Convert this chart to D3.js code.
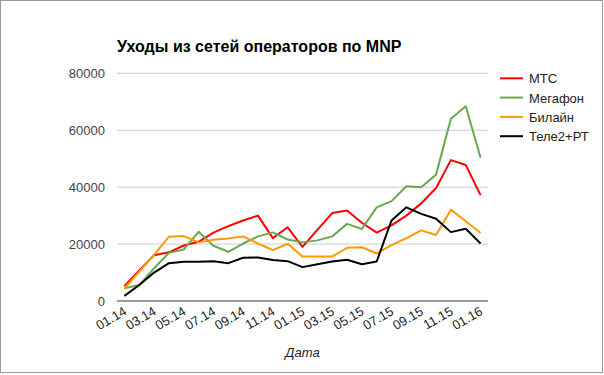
<!DOCTYPE html>
<html>
<head>
<meta charset="utf-8">
<script src="https://cdn.jsdelivr.net/npm/d3@7"></script>
<style>
  body { margin: 0; background: #fff; }
  text { font-family: Arial, "Liberation Sans", sans-serif; }
</style>
</head>
<body>
<div id="chart"></div>
<script>
// months 01.14 .. 01.16
const months = ["01.14","02.14","03.14","04.14","05.14","06.14","07.14","08.14","09.14","10.14","11.14","12.14",
  "01.15","02.15","03.15","04.15","05.15","06.15","07.15","08.15","09.15","10.15","11.15","12.15","01.16"];
const mts = [5200, 10700, 16100, 17100, 19500, 20800, 24000, 26300, 28300, 30000, 22100, 25900,
  19000, 25000, 30900, 31800, 27500, 24000, 26600, 30000, 34300, 39700, 49500, 47800, 37200];
const megafon = [4500, 5600, 11500, 16900, 18100, 24300, 19400, 17300, 20200, 22700, 24100, 21600,
  20600, 21300, 22700, 27100, 25300, 32900, 35100, 40300, 40000, 44400, 64000, 68400, 50300];
const beeline = [4400, 10300, 16200, 22600, 22800, 20600, 21500, 22000, 22700, 20200, 17900, 20100,
  15600, 15600, 15600, 18700, 18900, 16700, 19600, 22100, 24800, 23200, 32100, 28000, 23900];
const tele2 = [1800, 5600, 10000, 13300, 13800, 13800, 14000, 13300, 15200, 15300, 14400, 14000,
  11900, 12900, 13900, 14500, 12900, 13900, 28300, 32900, 30600, 28900, 24200, 25400, 20200];
const seriesNames = ["МТС", "Мегафон", "Билайн", "Теле2+РТ"];
const yTicks = [0, 20000, 40000, 60000, 80000];

const series = [mts, megafon, beeline, tele2];
const colors = ["#ff0000", "#6aa84f", "#ff9900", "#000000"];

const width = 604, height = 375;
// plot area
const plot = { left: 117, right: 488, top: 73.3, bottom: 301 };

const svg = d3.select("#chart").append("svg")
    .attr("width", width)
    .attr("height", height);

// outer frame
svg.append("rect")
    .attr("x", 0.5).attr("y", 0.5)
    .attr("width", 602).attr("height", 372)
    .attr("fill", "none")
    .attr("stroke", "#999")
    .attr("stroke-width", 1);

const x = d3.scalePoint()
    .domain(months)
    .range([plot.left, plot.right])
    .padding(0.5);

const y = d3.scaleLinear()
    .domain([0, 80000])
    .range([plot.bottom, plot.top]);

// title
svg.append("text")
    .attr("x", 117)
    .attr("y", 52)
    .style("font-size", "16px")
    .style("font-weight", "bold")
    .attr("fill", "#000")
    .text("Уходы из сетей операторов по MNP");

// gridlines + y labels
yTicks.forEach(t => {
    if (t > 0) {
        svg.append("line")
            .attr("x1", plot.left).attr("x2", plot.right)
            .attr("y1", y(t)).attr("y2", y(t))
            .attr("stroke", "#cccccc")
            .attr("stroke-width", 1);
    }
    svg.append("text")
        .attr("x", 105)
        .attr("y", y(t) + 5)
        .attr("text-anchor", "end")
        .style("font-size", "13px")
        .attr("fill", "#444")
        .text(t);
});

// lines
const line = d3.line()
    .x((d, i) => x(months[i]))
    .y(d => y(d));

series.forEach((s, k) => {
    svg.append("path")
        .datum(s)
        .attr("d", line)
        .attr("fill", "none")
        .attr("stroke", colors[k])
        .attr("stroke-width", 2)
        .attr("stroke-linejoin", "round");
});

// baseline
svg.append("line")
    .attr("x1", plot.left).attr("x2", plot.right)
    .attr("y1", plot.bottom).attr("y2", plot.bottom)
    .attr("stroke", "#333")
    .attr("stroke-width", 1);

// x labels (every other month, rotated)
months.forEach((m, i) => {
    if (i % 2 !== 0) return;
    svg.append("text")
        .attr("text-anchor", "end")
        .attr("transform", `translate(${x(m) + 3},314) rotate(-30)`)
        .style("font-size", "13px")
        .attr("fill", "#222")
        .text(m);
});

// axis title
svg.append("text")
    .attr("x", (plot.left + plot.right) / 2)
    .attr("y", 357)
    .attr("text-anchor", "middle")
    .style("font-size", "13px")
    .style("font-style", "italic")
    .attr("fill", "#222")
    .text("Дата");

// legend
const legend = svg.append("g");
seriesNames.forEach((name, i) => {
    const ly = 78.3 + i * 19.3;
    legend.append("line")
        .attr("x1", 500).attr("x2", 523)
        .attr("y1", ly).attr("y2", ly)
        .attr("stroke", colors[i])
        .attr("stroke-width", 2);
    legend.append("text")
        .attr("x", 529)
        .attr("y", ly + 5)
        .style("font-size", "13px")
        .attr("fill", "#222")
        .text(name);
});
</script>
</body>
</html>
